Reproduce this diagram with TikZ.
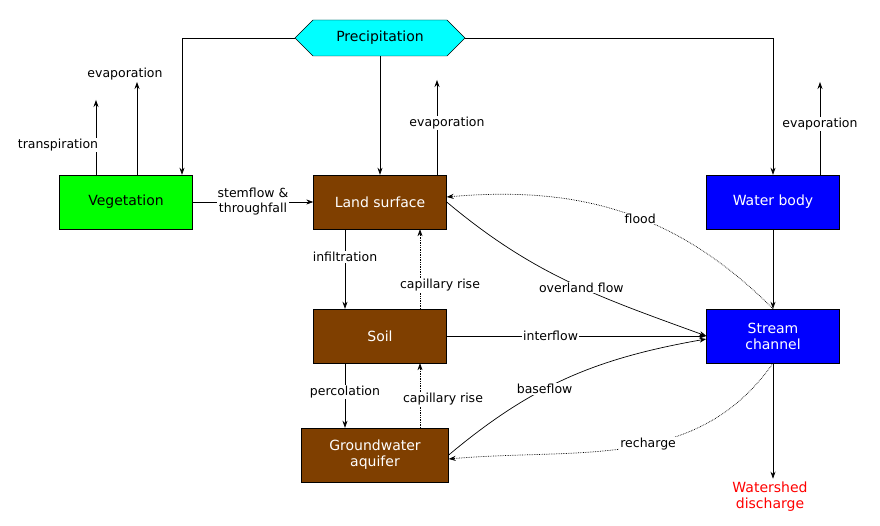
\documentclass[tikz,border=0pt]{standalone}
\usepackage{fontspec}
\setmainfont{DejaVu Sans}
\usetikzlibrary{arrows.meta,shapes.symbols}
\definecolor{soil brown}{HTML}{7F3F00}
\definecolor{rain cyan}{HTML}{00FFFF}
\tikzset{
    x={1pt},
    y={1pt},
    flow/.style={
        draw=black,
        line width={0.7pt},
        -{Stealth[length=7pt,width=5pt]},
    },
    weak flow/.style={
        flow,
        densely dotted,
    },
    store/.style={
        draw=black, fill={#1},
        rectangle,
        font={\fontsize{14}{16}\selectfont\color{white}},
        align=center,
        minimum width={133},
        minimum height={54},
        inner sep=0pt,
    },
    store/.default={soil brown},
    flow label/.style={
        font={\fontsize{12.5}{15}\selectfont},
        align=center,
        fill=white,
        inner sep=1pt,
    },
}

\begin{document}
\begin{tikzpicture}
\useasboundingbox (0,0) rectangle (880,526);
% stores
\node[draw=black, fill=rain cyan, signal, signal to=west and east,
      minimum width={170}, minimum height={36}, inner sep=0pt,
      font={\fontsize{14}{16}\selectfont}] (precipitation) at (380,488) {Precipitation};
\node[store={green}, font={\fontsize{14}{16}\selectfont\color{black}}] (vegetation) at (126,324) {Vegetation};
\node[store] (land) at (380,324) {Land surface};
\node[store={blue}] (water) at (773,324) {Water body};
\node[store] (soil) at (380,190) {Soil};
\node[store={blue}] (stream) at (773,190) {Stream\\channel};
\node[store, minimum width={147}] (aquifer) at (375,71) {Groundwater\\aquifer};
\node[font={\fontsize{14}{16}\selectfont}, text=red, align=center] (discharge) at (770,29) {Watershed\\discharge};
% free ends
\coordinate (transpiration end) at (96,426);
\coordinate (vegetation evap end) at (137,444);
\coordinate (land evap end) at (437,446);
\coordinate (water evap end) at (820,444);
% precipitation
\draw[flow] (precipitation.west) -| (vegetation.north -| 182,0);
\draw[flow] (precipitation.east) -| (water.north);
\draw[flow] (precipitation.south) -- (land.north);
% evaporation
\draw[flow] (vegetation.north -| transpiration end) -- node[flow label, pos=0.4, xshift=-38pt] {transpiration} (transpiration end);
\draw[flow] (vegetation.north -| vegetation evap end) -- (vegetation evap end) node[flow label, above=1pt, xshift=-12pt] {evaporation};
\draw[flow] (land.north -| land evap end) -- node[flow label, pos=0.55, xshift=10pt] {evaporation} (land evap end);
\draw[flow] (water.north -| water evap end) -- node[flow label, pos=0.55] {evaporation} (water evap end);
% vertical flows
\draw[flow] (vegetation) -- node[flow label] {stemflow \&\\throughfall} (land);
\draw[flow] (land.south -| 345,0) -- node[flow label, pos=0.35] {infiltration} (soil.north -| 345,0);
\draw[weak flow] (soil.north -| 420,0) -- node[flow label, pos=0.3, xshift=20pt] {capillary rise} (land.south -| 420,0);
\draw[flow] (soil.south -| 345,0) -- node[flow label, pos=0.45] {percolation} (aquifer.north -| 345,0);
\draw[weak flow] (aquifer.north -| 420,0) -- node[flow label, pos=0.45, xshift=23pt] {capillary rise} (soil.south -| 420,0);
\draw[flow] (water) -- (stream);
\draw[flow] (stream.south) -- (stream.south |- discharge.north);
% lateral flows
\draw[flow] (land.east) to[out=-40,in=160] node[flow label, pos=0.55] {overland flow} (stream.west);
\draw[weak flow] (stream.north) to[out=135,in=5] node[flow label, pos=0.45] {flood} ([yshift=5]land.east);
\draw[flow] (soil) -- node[flow label, pos=0.4] {interflow} (stream);
\draw[flow] (aquifer.east) to[out=40,in=190] node[flow label, pos=0.4] {baseflow} ([yshift=-3]stream.west);
\draw[weak flow] (stream.south) to[out=-125,in=5] node[flow label, pos=0.45] {recharge} ([yshift=-4]aquifer.east);
\end{tikzpicture}
\end{document}
